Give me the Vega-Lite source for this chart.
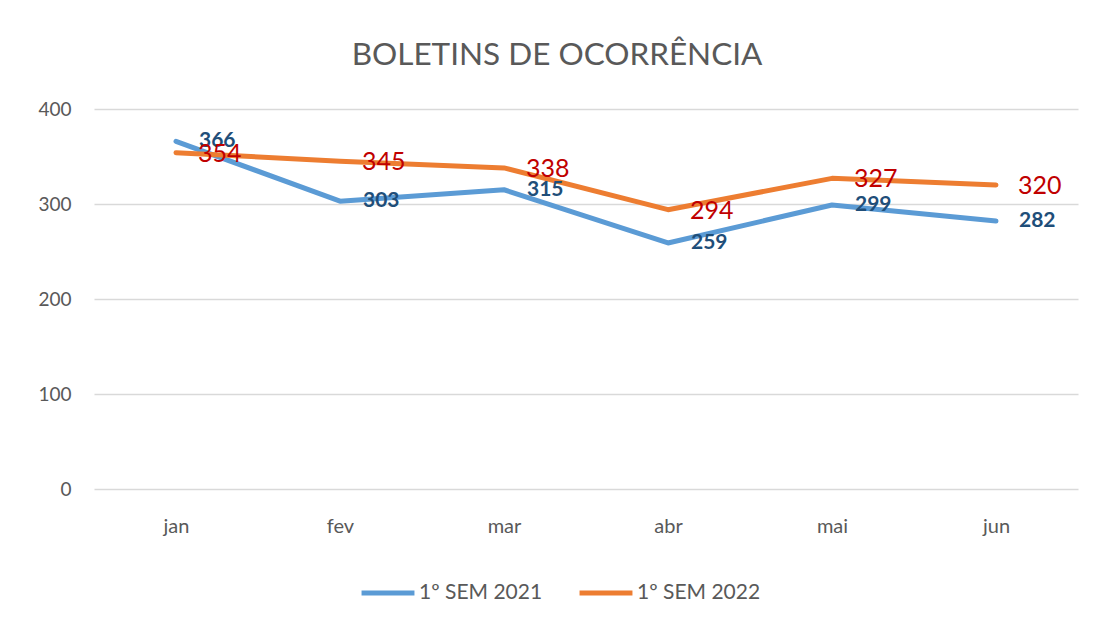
{
  "$schema": "https://vega.github.io/schema/vega-lite/v6.json",
  "width": 984,
  "height": 380,
  "autosize": {"type": "none"},
  "padding": {"left": 94, "top": 109, "right": 18, "bottom": 134},
  "background": "white",
  "config": {
    "font": "Lato",
    "view": {"stroke": null},
    "axis": {"labelColor": "#595959", "labelFont": "Lato", "labelFontSize": 19, "gridColor": "#D9D9D9", "gridWidth": 1.5, "domain": false, "ticks": false, "title": null}
  },
  "title": {"text": "BOLETINS DE OCORRÊNCIA", "font": "Lato", "fontSize": 31.5, "fontWeight": "normal", "color": "#595959", "anchor": "middle", "dx": -29, "offset": 4, "baseline": "alphabetic"},
  "data": {"values": [
    {"mes": "jan", "serie": "1º SEM 2021", "valor": 366},
    {"mes": "fev", "serie": "1º SEM 2021", "valor": 303},
    {"mes": "mar", "serie": "1º SEM 2021", "valor": 315},
    {"mes": "abr", "serie": "1º SEM 2021", "valor": 259},
    {"mes": "mai", "serie": "1º SEM 2021", "valor": 299},
    {"mes": "jun", "serie": "1º SEM 2021", "valor": 282},
    {"mes": "jan", "serie": "1º SEM 2022", "valor": 354},
    {"mes": "fev", "serie": "1º SEM 2022", "valor": 345},
    {"mes": "mar", "serie": "1º SEM 2022", "valor": 338},
    {"mes": "abr", "serie": "1º SEM 2022", "valor": 294},
    {"mes": "mai", "serie": "1º SEM 2022", "valor": 327},
    {"mes": "jun", "serie": "1º SEM 2022", "valor": 320}
  ]},
  "encoding": {
    "x": {"field": "mes", "type": "nominal", "sort": ["jan", "fev", "mar", "abr", "mai", "jun"], "scale": {"type": "point", "padding": 0.5}, "axis": {"labelAngle": 0, "labelPadding": 27, "labelFontSize": 20, "grid": false}},
    "y": {"field": "valor", "type": "quantitative", "scale": {"domain": [0, 400], "nice": false}, "axis": {"values": [0, 100, 200, 300, 400], "labelPadding": 23, "grid": true}}
  },
  "layer": [
    {
      "mark": {"type": "line", "strokeWidth": 5, "strokeCap": "round", "strokeJoin": "round"},
      "encoding": {
        "color": {"field": "serie", "type": "nominal", "scale": {"domain": ["1º SEM 2021", "1º SEM 2022"], "range": ["#5B9BD5", "#ED7D31"]},
          "legend": {"title": null, "orient": "none", "legendX": 265, "legendY": 455, "direction": "horizontal", "symbolType": "stroke", "symbolSize": 2800, "symbolStrokeWidth": 5, "labelFontSize": 21, "labelColor": "#595959", "labelFont": "Lato", "columnPadding": 26, "labelOffset": 2, "padding": 0}}
      }
    },
    {
      "transform": [{"filter": "datum.serie === '1º SEM 2021'"}],
      "mark": {"type": "text", "align": "left", "baseline": "middle", "dx": 23, "fontSize": 21, "fontWeight": "bold", "color": "#1F4E79"},
      "encoding": {"text": {"field": "valor", "type": "quantitative"}}
    },
    {
      "transform": [{"filter": "datum.serie === '1º SEM 2022'"}],
      "mark": {"type": "text", "align": "left", "baseline": "middle", "dx": 22, "dy": 1, "fontSize": 25, "color": "#C00000"},
      "encoding": {"text": {"field": "valor", "type": "quantitative"}}
    }
  ]
}
